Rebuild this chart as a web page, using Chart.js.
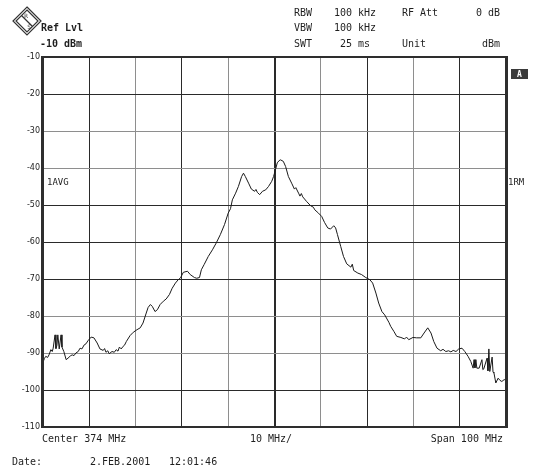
<!DOCTYPE html>
<html>
<head>
<meta charset="utf-8">
<script src="https://cdn.jsdelivr.net/npm/chart.js@4"></script>
<style>
  html, body { margin: 0; padding: 0; background: #ffffff; }
  #wrap { position: relative; width: 534px; height: 473px; }
  canvas { display: block; }
</style>
</head>
<body>
<div id="wrap"><canvas id="spec" width="534" height="473"></canvas></div>
<script>
// Trace 1 (average), frequency in MHz and level in dBm
const freqMHz = [
  324.0, 324.3, 324.6, 325.0, 325.3, 325.7, 326.0, 326.2, 326.6, 326.8,
  327.0, 327.2, 327.5, 327.9, 328.1, 328.5, 329.0, 329.4, 329.9, 330.3,
  330.7, 331.1, 331.6, 332.0, 332.4, 332.9, 333.3, 333.7, 334.4, 335.0,
  335.7, 336.3, 337.0, 337.3, 337.6, 338.0, 338.3, 338.9, 339.4, 339.8,
  340.2, 340.5, 340.9, 341.3, 341.6, 342.0, 342.8, 343.5, 344.3, 345.0,
  345.6, 346.3, 346.7, 347.2, 347.6, 348.2, 348.7, 349.3, 350.0, 350.6,
  351.3, 351.9, 352.6, 353.2, 353.7, 354.3, 355.2, 355.8, 356.7, 357.2,
  357.8, 358.2, 358.8, 359.7, 360.6, 361.4, 362.3, 363.2, 364.0, 364.5,
  364.9, 365.6, 366.2, 366.9, 367.3, 367.7, 368.4, 369.0, 369.7, 370.0,
  370.3, 370.8, 371.4, 372.1, 372.7, 373.4, 373.8, 374.2, 374.6, 375.0,
  375.3, 375.9, 376.4, 377.0, 377.7, 378.3, 378.6, 379.2, 379.5, 379.8,
  380.1, 380.9, 381.8, 382.4, 382.7, 383.5, 384.2, 384.8, 385.5, 386.1,
  386.8, 387.2, 387.6, 388.3, 388.9, 389.6, 390.5, 390.8, 391.1, 392.0,
  392.8, 393.7, 394.6, 395.2, 395.9, 396.5, 397.2, 397.8, 398.7, 399.1,
  399.8, 400.4, 401.3, 402.1, 402.5, 403.0, 403.9, 404.7, 405.6, 406.3,
  407.1, 407.8, 408.4, 409.1, 409.9, 410.4, 411.0, 411.6, 412.1, 412.6,
  413.2, 413.8, 414.5, 415.1, 415.8, 416.4, 416.9, 417.1, 417.3, 417.5,
  417.7, 418.2, 418.8, 419.0, 419.2, 419.9, 420.1, 420.3, 420.5, 421.0,
  421.2, 421.4, 421.8, 422.3, 422.7, 423.1, 423.6, 424.0
];
const levelDbm = [
  -92.5, -91.5, -90.9, -91.2, -90.5, -89.1, -89.6, -88.7, -85.1, -88.8,
  -88.0, -85.1, -88.9, -85.1, -88.4, -89.6, -91.8, -91.4, -90.8, -90.5,
  -90.7, -90.0, -89.6, -88.7, -88.9, -87.8, -87.5, -86.7, -85.7, -85.9,
  -87.3, -88.9, -89.3, -88.8, -89.8, -89.4, -90.2, -89.6, -89.8, -89.1,
  -89.5, -88.4, -88.9, -88.2, -87.9, -86.9, -85.3, -84.4, -83.7, -83.2,
  -81.9, -79.2, -77.7, -76.9, -77.4, -78.8, -78.3, -76.9, -76.0, -75.4,
  -74.2, -72.5, -71.1, -70.2, -69.7, -68.2, -67.9, -68.8, -69.6, -69.8,
  -69.6, -67.5, -66.1, -63.9, -62.1, -60.3, -58.0, -55.3, -52.2, -51.0,
  -48.6, -46.8, -45.0, -42.3, -41.4, -42.3, -44.1, -45.7, -46.3, -45.8,
  -46.6, -47.2, -46.3, -45.9, -45.0, -43.6, -42.3, -40.5, -38.6, -38.0,
  -37.8, -38.2, -39.6, -42.3, -44.1, -45.7, -45.3, -46.8, -47.6, -46.9,
  -47.8, -49.0, -50.2, -50.6, -51.3, -52.2, -53.1, -54.7, -56.2, -56.5,
  -55.6, -56.2, -58.0, -61.2, -63.9, -65.9, -66.8, -66.0, -67.7, -68.4,
  -68.8, -69.6, -70.2, -71.1, -73.8, -76.5, -78.8, -79.7, -81.7, -82.8,
  -84.2, -85.5, -85.8, -86.2, -85.7, -86.4, -85.8, -85.9, -85.9, -84.6,
  -83.2, -84.6, -86.9, -88.7, -89.4, -89.0, -89.6, -89.4, -89.7, -89.3,
  -89.6, -88.9, -88.7, -89.6, -90.9, -92.3, -94.1, -91.8, -94.0, -91.8,
  -94.1, -94.1, -91.8, -94.5, -94.3, -91.4, -94.8, -88.9, -95.0, -91.1,
  -95.2, -95.4, -98.1, -96.8, -97.4, -97.7, -97.2, -97.3
];

// Axis settings
const freqStart = 324, freqStop = 424, freqStep = 10;
const refLevel = -10, bottomLevel = -110, levelStep = 10;

// Grid shading per division line (dark / light)
const xGridShade = ['d', 'd', 'l', 'd', 'l', 'c', 'l', 'd', 'l', 'd', 'd'];
const yGridShade = ['d', 'd', 'l', 'l', 'd', 'd', 'd', 'l', 'l', 'd', 'd'];

// Header / footer texts
const headerRows = [
  { label: 'RBW', value: '100 kHz', tag: 'RF Att', right: '0 dB' },
  { label: 'VBW', value: '100 kHz', tag: '', right: '' },
  { label: 'SWT', value: ' 25 ms', tag: 'Unit', right: 'dBm' }
];
const footerLeft = 'Center 374 MHz';
const footerMid = '10 MHz/';
const footerRight = 'Span 100 MHz';
const dateText = ['Date:', '2.FEB.2001', '12:01:46'];

const DARK = '#2a2a2a', LIGHT = '#8e8e8e', INK = '#1e1e1e';
const MONO = '"DejaVu Sans Mono", monospace';

const screenDecor = {
  id: 'screenDecor',
  afterDraw(chart) {
    const ctx = chart.ctx;
    const a = chart.chartArea;
    ctx.save();
    // frame
    ctx.strokeStyle = '#2e2e2e';
    ctx.lineWidth = 3;
    ctx.beginPath();
    ctx.moveTo(a.left - 0.5, a.top - 1); ctx.lineTo(a.left - 0.5, a.bottom + 1);
    ctx.moveTo(a.right + 0.5, a.top - 1); ctx.lineTo(a.right + 0.5, a.bottom + 1);
    ctx.stroke();
    ctx.lineWidth = 2;
    ctx.beginPath();
    ctx.moveTo(a.left - 2, a.top); ctx.lineTo(a.right + 2, a.top);
    ctx.moveTo(a.left - 2, a.bottom); ctx.lineTo(a.right + 2, a.bottom);
    ctx.stroke();

    ctx.fillStyle = INK;
    ctx.textBaseline = 'middle';
    ctx.font = '10px ' + MONO;
    // instrument settings
    const rowY = [13, 28, 44];
    headerRows.forEach((r, i) => {
      ctx.textAlign = 'left';
      ctx.fillText(r.label, 294, rowY[i]);
      ctx.fillText(r.value, 334, rowY[i]);
      if (r.tag) ctx.fillText(r.tag, 402, rowY[i]);
      if (r.right) { ctx.textAlign = 'right'; ctx.fillText(r.right, 500, rowY[i]); }
    });
    ctx.textAlign = 'left';
    ctx.font = 'bold 10px ' + MONO;
    ctx.fillText('Ref Lvl', 41, 28);
    ctx.fillText('-10 dBm', 40, 44);

    // logo
    const cx = 27, cy = 21, r = 14;
    ctx.strokeStyle = '#333';
    ctx.lineWidth = 1.2;
    ctx.beginPath();
    ctx.moveTo(cx, cy - r); ctx.lineTo(cx + r, cy); ctx.lineTo(cx, cy + r); ctx.lineTo(cx - r, cy); ctx.closePath();
    ctx.stroke();
    ctx.beginPath();
    const r2 = r - 3;
    ctx.moveTo(cx, cy - r2); ctx.lineTo(cx + r2, cy); ctx.lineTo(cx, cy + r2); ctx.lineTo(cx - r2, cy); ctx.closePath();
    ctx.stroke();
    ctx.beginPath();
    ctx.moveTo(cx - r2 / 2, cy - r2 / 2); ctx.lineTo(cx + r2 / 2, cy + r2 / 2);
    ctx.stroke();
    ctx.font = '6px ' + MONO;
    ctx.textAlign = 'center';
    ctx.fillStyle = '#333';
    ctx.fillText('R', cx - 1, cy - 5);
    ctx.fillText('S', cx + 2, cy + 6);

    // trace and marker labels
    ctx.fillStyle = INK;
    ctx.font = '9px ' + MONO;
    ctx.textAlign = 'left';
    ctx.fillText('1AVG', 47, 183);
    ctx.fillText('1RM', 508, 183);
    ctx.fillStyle = '#3a3a3a';
    ctx.fillRect(511, 69, 17, 10);
    ctx.fillStyle = '#ffffff';
    ctx.font = 'bold 8px ' + MONO;
    ctx.textAlign = 'center';
    ctx.fillText('A', 519.5, 74.5);

    // footer
    ctx.fillStyle = INK;
    ctx.font = '10px ' + MONO;
    ctx.textAlign = 'left';
    ctx.fillText(footerLeft, 42, 439);
    ctx.fillText(footerMid, 250, 439);
    ctx.textAlign = 'right';
    ctx.fillText(footerRight, 503, 439);
    ctx.textAlign = 'left';
    ctx.fillText(dateText[0], 12, 462);
    ctx.fillText(dateText[1], 90, 462);
    ctx.fillText(dateText[2], 169, 462);
    ctx.restore();
  }
};

const points = freqMHz.map((f, i) => ({ x: f, y: levelDbm[i] }));

new Chart(document.getElementById('spec'), {
  type: 'line',
  data: {
    datasets: [{
      label: '1AVG',
      data: points,
      borderColor: '#1a1a1a',
      borderWidth: 1,
      pointRadius: 0,
      tension: 0,
      fill: false
    }]
  },
  options: {
    responsive: false,
    animation: false,
    devicePixelRatio: 1,
    layout: { padding: { left: 0, right: 28, top: 57, bottom: 46 } },
    plugins: { legend: { display: false }, tooltip: { enabled: false } },
    scales: {
      x: {
        type: 'linear',
        min: freqStart, max: freqStop,
        afterFit(s) { s.height = 0; },
        ticks: { display: false, stepSize: freqStep },
        border: { display: false },
        grid: {
          drawTicks: false,
          color: c => xGridShade[c.index] === 'l' ? LIGHT : DARK,
          lineWidth: c => xGridShade[c.index] === 'c' ? 2 : 1
        }
      },
      y: {
        type: 'linear',
        min: bottomLevel, max: refLevel,
        afterFit(s) { s.width = 43; },
        border: { display: false },
        ticks: {
          stepSize: levelStep,
          padding: 3,
          color: INK,
          font: { family: 'DejaVu Sans', size: 8 },
          callback: v => String(v)
        },
        grid: {
          drawTicks: false,
          color: c => yGridShade[c.index] === 'l' ? LIGHT : DARK,
          lineWidth: 1
        }
      }
    }
  },
  plugins: [screenDecor]
});
</script>
</body>
</html>
